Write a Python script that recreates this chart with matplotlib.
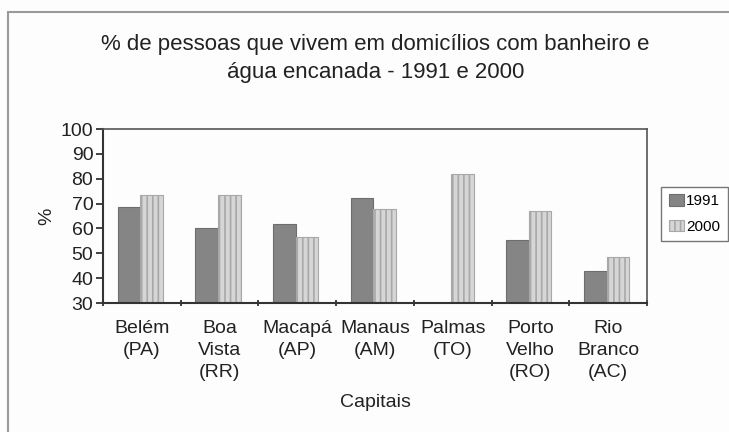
import matplotlib
matplotlib.use("Agg")
import matplotlib.pyplot as plt
import matplotlib.patches as mpatches
import numpy as np

# data
capitais = ["Belém\n(PA)", "Boa\nVista\n(RR)", "Macapá\n(AP)", "Manaus\n(AM)",
            "Palmas\n(TO)", "Porto\nVelho\n(RO)", "Rio\nBranco\n(AC)"]
anos = ["1991", "2000"]
v1991 = [68.6, 60.0, 61.7, 72.3, np.nan, 55.4, 42.9]
v2000 = [73.3, 73.3, 56.6, 67.8, 81.7, 67.0, 48.7]
yticks = [30, 40, 50, 60, 70, 80, 90, 100]

plt.rcParams['font.family'] = ['Liberation Sans', 'DejaVu Sans']
plt.rcParams['hatch.color'] = '#9a9a9a'
plt.rcParams['hatch.linewidth'] = 1.2

fig = plt.figure(figsize=(7.29, 4.32), dpi=100)
fig.patch.set_facecolor('#fdfdfd')

# outer frame of the picture (right and bottom edges fall outside the image)
fig.add_artist(mpatches.Rectangle((8 / 729, -0.05), 1.2, (432 - 12) / 432 + 0.05,
                                  transform=fig.transFigure, fill=False,
                                  edgecolor='#9a9a9a', linewidth=1.5))

ax = fig.add_axes([103 / 729, (432 - 303) / 432, (647 - 103) / 729, (303 - 129) / 432])
ax.set_facecolor('#fdfdfd')

x = np.arange(len(capitais))
w = 0.29
ax.bar(x - w / 2 - 0.02, v1991, w, color='#858585', edgecolor='#6e6e6e', linewidth=0.8)
ax.bar(x + w / 2 - 0.02, v2000, w, color='#d6d6d6', edgecolor='#a8a8a8', linewidth=0.8, hatch='|||')

ax.set_ylim(30, 100)
ax.set_xlim(-0.5, len(capitais) - 0.5)
ax.set_yticks(yticks)
ax.set_xticks(x)
ax.set_xticklabels(capitais, fontsize=14, linespacing=1.4, color='#222222')
ax.set_xticks(np.arange(-0.5, len(capitais)), minor=True)
ax.tick_params(axis='x', which='major', length=0, pad=12)
ax.tick_params(axis='x', which='minor', length=5, width=1.3, direction='inout', color='#333333')
ax.tick_params(axis='y', length=5, width=1.3, labelsize=14, color='#333333', labelcolor='#222222', pad=2)

for s in ax.spines.values():
    s.set_linewidth(1.5)
    s.set_color('#333333')
ax.spines['top'].set_linewidth(1.2)
ax.spines['right'].set_linewidth(1.2)
ax.spines['top'].set_color('#555555')
ax.spines['right'].set_color('#555555')

ax.set_ylabel('%', fontsize=14, color='#222222')
ax.yaxis.set_label_coords(-0.088, 0.5)
ax.set_xlabel('Capitais', fontsize=14, color='#222222', labelpad=9)

fig.text(0.515, (432 - 58.5) / 432,
         "% de pessoas que vivem em domicílios com banheiro e\nágua encanada - 1991 e 2000",
         ha='center', va='center', fontsize=16, linespacing=1.4, color='#222222')

h1 = mpatches.Patch(facecolor='#858585', edgecolor='#6e6e6e', linewidth=0.8)
h2 = mpatches.Patch(facecolor='#d6d6d6', edgecolor='#a8a8a8', linewidth=0.8, hatch='|||')
leg = fig.legend([h1, h2], anos, loc='center left',
                 bbox_to_anchor=(661 / 729, (432 - 214) / 432),
                 fontsize=11, fancybox=False, edgecolor='#777777',
                 handlelength=1.0, handleheight=0.75, handletextpad=0.15,
                 borderpad=0.5, labelspacing=0.75, borderaxespad=0, framealpha=1)
leg.get_frame().set_linewidth(1.0)

fig.savefig('out.png', dpi=100, facecolor=fig.get_facecolor())
